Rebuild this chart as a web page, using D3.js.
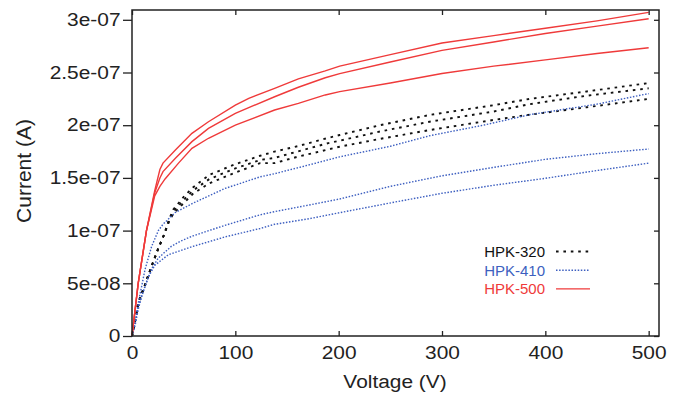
<!DOCTYPE html>
<html>
<head>
<meta charset="utf-8">
<script src="https://cdn.jsdelivr.net/npm/d3@7"></script>
<style>
  body { margin: 0; background: #fff; }
  text { font-family: "Liberation Sans", Arial, Helvetica, sans-serif; fill: #222; }
  /* the original figure's lettering is a bit wider than Helvetica */
  .wide { transform-box: fill-box; transform-origin: center; transform: scaleX(1.16); }
  .wide-r { transform-box: fill-box; transform-origin: right center; transform: scaleX(1.16); }
</style>
</head>
<body>
<div id="chart"></div>
<script>
// I-V curves, current in units of 1e-7 A

var xTicks = [0, 100, 200, 300, 400, 500];
var yTicks = [0, 0.5, 1, 1.5, 2, 2.5, 3];
var yTickLabels = ["0", "5e-08", "1e-07", "1.5e-07", "2e-07", "2.5e-07", "3e-07"];

var seriesNames = ["HPK-320", "HPK-410", "HPK-500"];

// HPK-320 (three sensors) : [voltage, current]
var hpk320a = [[0,0],[3,0.15],[6,0.31],[12,0.47],[17,0.61],[25,0.82],[31,0.96],[36,1.11],[40,1.2],[50,1.32],[59,1.41],[75,1.53],[100,1.63],[124,1.71],[138,1.75],[160,1.8],[190,1.88],[201,1.907],[240,2.0],[288,2.097],[350,2.19],[385,2.25],[440,2.32],[500,2.4]];
var hpk320b = [[0,0],[3,0.15],[6,0.31],[12,0.47],[17,0.61],[25,0.82],[31,0.96],[36,1.1],[40,1.18],[50,1.29],[59,1.38],[75,1.49],[100,1.59],[124,1.67],[138,1.69],[160,1.75],[190,1.83],[201,1.853],[240,1.94],[288,2.033],[350,2.13],[385,2.2],[440,2.28],[500,2.35]];
var hpk320c = [[0,0],[3,0.15],[6,0.31],[12,0.47],[17,0.61],[25,0.82],[31,0.96],[36,1.09],[40,1.16],[50,1.26],[59,1.35],[75,1.45],[100,1.55],[124,1.64],[138,1.64],[160,1.7],[190,1.77],[201,1.796],[240,1.87],[288,1.954],[350,2.05],[385,2.1],[440,2.17],[500,2.25]];

// HPK-410
var hpk410a = [[0,0],[3,0.13],[6,0.31],[12.6,0.63],[19,0.85],[25.5,1.0],[30,1.06],[41.6,1.17],[59,1.26],[90,1.4],[124,1.51],[138,1.54],[170,1.62],[201,1.7],[250,1.8],[288,1.9],[340,2.0],[385,2.1],[450,2.2],[500,2.3]];
var hpk410b = [[0,0],[3,0.12],[6,0.28],[12.6,0.47],[19,0.64],[25.5,0.74],[38,0.85],[47,0.9],[59,0.95],[90,1.05],[124,1.15],[138,1.18],[170,1.24],[201,1.3],[250,1.42],[300,1.52],[350,1.6],[400,1.676],[450,1.73],[500,1.774]];
var hpk410c = [[0,0],[3,0.1],[6,0.25],[10,0.4],[15.8,0.56],[22,0.67],[35,0.77],[59,0.85],[90,0.94],[124,1.02],[138,1.06],[170,1.11],[201,1.17],[254,1.27],[300,1.354],[350,1.43],[400,1.496],[450,1.57],[500,1.64]];

// HPK-500
var hpk500a = [[0,0],[6,0.5],[14,1.0],[22,1.38],[27,1.58],[30,1.64],[42,1.765],[58,1.923],[74,2.033],[100,2.19],[113,2.255],[138,2.35],[161,2.44],[187,2.515],[201,2.56],[250,2.67],[300,2.78],[350,2.85],[400,2.92],[450,2.99],[500,3.07]];
var hpk500b = [[0,0],[6,0.5],[14,1.0],[22,1.36],[27,1.5],[30,1.56],[42,1.686],[58,1.844],[74,1.97],[100,2.113],[138,2.27],[161,2.36],[187,2.45],[201,2.49],[250,2.6],[300,2.71],[350,2.79],[400,2.87],[450,2.94],[500,3.01]];
var hpk500c = [[0,0],[6,0.5],[14,1.0],[22,1.33],[27,1.42],[32,1.49],[45,1.64],[58,1.78],[74,1.876],[100,2.0],[138,2.144],[161,2.207],[187,2.287],[201,2.318],[250,2.4],[300,2.49],[350,2.56],[400,2.62],[450,2.68],[500,2.735]];

var w = 681, h = 397;
var margin = { top: 10, right: 22, bottom: 61, left: 132 };
var iw = w - margin.left - margin.right,
	ih = h - margin.top - margin.bottom;

var styles = {
	"HPK-320": { color: "#111111", dash: "2.6,4.8", width: 1.9 },
	"HPK-410": { color: "#3d5fc0", dash: "1.5,1.6", width: 1.4 },
	"HPK-500": { color: "#ef3a3a", dash: null, width: 1.4 }
};

var series = [
	{ name: "HPK-320", curves: [hpk320a, hpk320b, hpk320c] },
	{ name: "HPK-410", curves: [hpk410a, hpk410b, hpk410c] },
	{ name: "HPK-500", curves: [hpk500a, hpk500b, hpk500c] }
];

var x = d3.scaleLinear().domain([0, 510]).range([0, iw]);
var y = d3.scaleLinear().domain([0, 3.093]).range([ih, 0]);

var svg = d3.select("#chart").append("svg")
	.attr("width", w)
	.attr("height", h);

var g = svg.append("g")
	.attr("transform", "translate(" + margin.left + "," + margin.top + ")");

var line = d3.line()
	.x(function(d) { return x(d[0]); })
	.y(function(d) { return y(d[1]); });

// curves
series.forEach(function(s) {
	var st = styles[s.name];
	g.selectAll(null)
		.data(s.curves)
		.enter().append("path")
		.attr("d", line)
		.attr("fill", "none")
		.attr("stroke", st.color)
		.attr("stroke-width", st.width)
		.attr("stroke-dasharray", st.dash);
});

// axes: left ticks outward, the rest inward
var axisColor = "#222";
var axBottom = g.append("g").attr("transform", "translate(0," + ih + ")")
	.call(d3.axisBottom(x).tickValues(xTicks).tickSize(-5).tickPadding(10));
var axTop = g.append("g")
	.call(d3.axisTop(x).tickValues(xTicks).tickSize(-5).tickFormat(""));
var axLeft = g.append("g")
	.call(d3.axisLeft(y).tickValues(yTicks).tickSize(9).tickPadding(2.5)
		.tickFormat(function(d, i) { return yTickLabels[i]; }));
var axRight = g.append("g").attr("transform", "translate(" + iw + ",0)")
	.call(d3.axisRight(y).tickValues(yTicks).tickSize(-5).tickFormat(""));

[axBottom, axTop, axLeft, axRight].forEach(function(a) {
	a.select(".domain").remove();
	a.selectAll(".tick line").attr("stroke", axisColor).attr("stroke-width", 1.3);
	a.selectAll(".tick text").style("font-size", "18px").style("fill", "#222");
});
axBottom.selectAll(".tick text").attr("class", "wide");
axLeft.selectAll(".tick text").attr("class", "wide-r");

g.append("rect")
	.attr("width", iw)
	.attr("height", ih)
	.attr("fill", "none")
	.attr("stroke", axisColor)
	.attr("stroke-width", 1.5);

// axis titles
svg.append("text")
	.attr("class", "wide")
	.attr("x", 395)
	.attr("y", 388)
	.attr("text-anchor", "middle")
	.style("font-size", "18px")
	.text("Voltage (V)");

svg.append("text")
	.attr("transform", "translate(31,171) rotate(-90)")
	.attr("text-anchor", "middle")
	.style("font-size", "21px")
	.text("Current (A)");

// legend
var legend = svg.append("g").attr("transform", "translate(545,257)");
var items = legend.selectAll("g")
	.data(seriesNames)
	.enter().append("g")
	.attr("transform", function(d, i) { return "translate(0," + i * 18.7 + ")"; });

items.append("text")
	.attr("text-anchor", "end")
	.style("font-size", "15px")
	.style("fill", function(d) { return styles[d].color; })
	.text(function(d) { return d; });

items.append("line")
	.attr("x1", 11).attr("x2", 45)
	.attr("y1", -5.5).attr("y2", -5.5)
	.attr("stroke", function(d) { return styles[d].color; })
	.attr("stroke-width", function(d) { return styles[d].width; })
	.attr("stroke-dasharray", function(d) { return styles[d].dash; });
</script>
</body>
</html>
